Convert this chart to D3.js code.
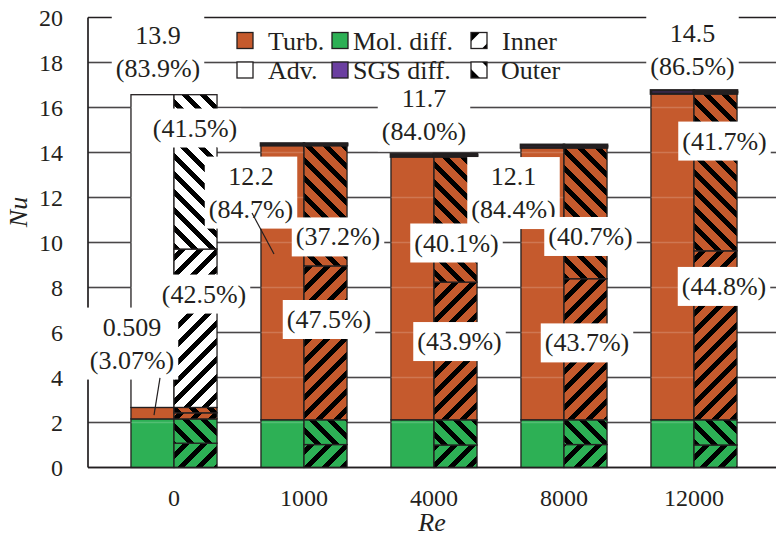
<!DOCTYPE html>
<html>
<head>
<meta charset="utf-8">
<script src="https://cdn.jsdelivr.net/npm/d3@7/dist/d3.min.js"></script>
<style>
  html, body { margin: 0; padding: 0; background: #fff; }
  svg { display: block; font-family: "Liberation Serif", serif; }
  svg text { font-family: "Liberation Serif", serif; fill: #231f20; }
</style>
</head>
<body>
<svg id="chart" width="776" height="538"></svg>
<script>
// ---------------- data ----------------
const categories = ["0", "1000", "4000", "8000", "12000"];
// left (total) bar components
const molDiff = [2.16, 2.12, 2.12, 2.12, 2.12];
const turb    = [0.509, 12.2, 11.7, 12.1, 14.5];
const sgsDiff = [0, 0.08, 0.11, 0.12, 0.14];
const adv     = [13.9, 0, 0, 0, 0];
// right (inner / outer split) bar components
const molInner  = [1.08, 1.02, 1.0, 1.02, 1.0];
const molOuter  = [1.08, 1.10, 1.12, 1.10, 1.12];
const turbInner = [0.27, 6.84, 6.12, 6.27, 7.51];
const turbOuter = [0.239, 5.36, 5.58, 5.83, 6.99];
const sgsInner  = [0, 0.04, 0.05, 0.06, 0.07];
const sgsOuter  = [0, 0.04, 0.06, 0.06, 0.07];
const advInner  = [7.04, 0, 0, 0, 0];
const advOuter  = [6.86, 0, 0, 0, 0];
const yTicks = [0, 2, 4, 6, 8, 10, 12, 14, 16, 18, 20];
const legendNames = ["Turb.", "Mol. diff.", "Inner", "Adv.", "SGS diff.", "Outer"];
// annotation texts
const annTexts = [
  ["13.9", "(83.9%)"], ["(41.5%)"], ["(42.5%)"], ["0.509", "(3.07%)"],
  ["12.2", "(84.7%)"], ["(37.2%)"], ["(47.5%)"],
  ["11.7", "(84.0%)"], ["(40.1%)"], ["(43.9%)"],
  ["12.1", "(84.4%)"], ["(40.7%)"], ["(43.7%)"],
  ["14.5", "(86.5%)"], ["(41.7%)"], ["(44.8%)"]
];
const annGroup = ["0","0","0","0","1000","1000","1000","4000","4000","4000","8000","8000","8000","12000","12000","12000"];
const annY     = [18.51, 15.11, 7.73, 5.53, 12.24, 10.27, 6.6, 15.67, 10.0, 5.62, 12.22, 10.29, 5.56, 18.56, 14.53, 8.07];

// ---------------- layout ----------------
const FONT = '"Liberation Serif", serif';
const colors = { mol: "#2db055", turb: "#c55a2d", sgs: "#6b3fa0", adv: "#ffffff" };
const ink = "#231f20";
const plotL = 88, plotR = 776, plotT = 17.5, plotB = 467.5;

const svg = d3.select("#chart");
const x = d3.scaleBand().domain(categories).range([109, 759]).paddingInner(0.338).paddingOuter(0.169);
const y = d3.scaleLinear().domain([0, 20]).range([plotB, plotT]);
const half = x.bandwidth() / 2;

// patterns
const defs = svg.append("defs");
function mkPattern(id, d) {
  const p = defs.append("pattern").attr("id", id).attr("patternUnits", "userSpaceOnUse")
    .attr("width", 18).attr("height", 18);
  p.append("path").attr("d", d).attr("stroke", "#000").attr("stroke-width", 5.2)
    .attr("shape-rendering", "crispEdges").attr("fill", "none");
}
mkPattern("inner", "M-4.5,4.5L4.5,-4.5M0,18L18,0M13.5,22.5L22.5,13.5");
mkPattern("outer", "M-4.5,13.5L4.5,22.5M0,0L18,18M13.5,-4.5L22.5,4.5");

// gridlines (behind bars)
svg.append("g").selectAll("line").data(yTicks).join("line")
  .attr("x1", plotL).attr("x2", plotR)
  .attr("y1", d => y(d)).attr("y2", d => y(d))
  .attr("stroke", ink).attr("stroke-width", 1.7);

// left bars
const leftTable = categories.map((c, i) => ({ cat: c, mol: molDiff[i], turb: turb[i], sgs: sgsDiff[i], adv: adv[i] }));
const leftKeys = ["mol", "turb", "sgs", "adv"];
const leftStack = d3.stack().keys(leftKeys)(leftTable);
const gl = svg.append("g");
leftStack.forEach(layer => {
  gl.selectAll(null).data(layer.filter(d => d[1] - d[0] > 0)).join("rect")
    .attr("x", d => x(d.data.cat))
    .attr("width", half)
    .attr("y", d => y(d[1]))
    .attr("height", d => y(d[0]) - y(d[1]))
    .attr("fill", colors[layer.key])
    .attr("stroke", ink).attr("stroke-width", layer.key === "sgs" ? 2.6 : 1.3);
});

// faint gridline sheen over the bars
svg.append("g").selectAll("line").data(yTicks.filter(t => t > 0 && t < 20)).join("line")
  .attr("x1", plotL).attr("x2", plotR)
  .attr("y1", d => y(d)).attr("y2", d => y(d))
  .attr("stroke", "#fff").attr("stroke-opacity", 0.18).attr("stroke-width", 1.5);

// right bars
const rightTable = categories.map((c, i) => ({
  cat: c, molI: molInner[i], molO: molOuter[i], turbI: turbInner[i], turbO: turbOuter[i],
  sgsI: sgsInner[i], sgsO: sgsOuter[i], advI: advInner[i], advO: advOuter[i]
}));
const rightKeys = ["molI", "molO", "turbI", "turbO", "sgsI", "sgsO", "advI", "advO"];
const rightStack = d3.stack().keys(rightKeys)(rightTable);
const gr = svg.append("g");
rightStack.forEach(layer => {
  const base = colors[layer.key.slice(0, -1)];
  const pat = layer.key.endsWith("I") ? "url(#inner)" : "url(#outer)";
  const isSgs = layer.key.startsWith("sgs");
  const segs = layer.filter(d => d[1] - d[0] > 0);
  gr.selectAll(null).data(segs).join("rect")
    .attr("x", d => x(d.data.cat) + half)
    .attr("width", half)
    .attr("y", d => y(d[1]))
    .attr("height", d => y(d[0]) - y(d[1]))
    .attr("fill", base);
  gr.selectAll(null).data(segs).join("rect")
    .attr("x", d => x(d.data.cat) + half)
    .attr("width", half)
    .attr("y", d => y(d[1]))
    .attr("height", d => y(d[0]) - y(d[1]))
    .attr("fill", isSgs ? "none" : pat)
    .attr("stroke", ink).attr("stroke-width", isSgs ? 2.6 : 1.3);
});

// axes
svg.append("line").attr("x1", plotL).attr("x2", plotL).attr("y1", plotT).attr("y2", plotB)
  .attr("stroke", ink).attr("stroke-width", 1.7);
const xAxis = svg.append("g").attr("transform", `translate(0,${plotB})`)
  .call(d3.axisBottom(x).tickSize(0).tickPadding(21));
xAxis.attr("font-family", FONT);
xAxis.select(".domain").attr("stroke", ink).attr("stroke-width", 1.7).attr("d", `M${plotL},0H${plotR}`);
xAxis.selectAll("text").attr("font-size", 24).attr("fill", ink).style("font-family", FONT);
const yAxis = svg.append("g").attr("transform", `translate(${plotL},0)`)
  .call(d3.axisLeft(y).tickValues(yTicks).tickSize(0).tickPadding(25));
yAxis.attr("font-family", FONT);
yAxis.select(".domain").remove();
yAxis.selectAll("text").attr("font-size", 24).attr("fill", ink).style("font-family", FONT);

// titles
svg.append("text").attr("transform", "translate(27,212) rotate(-90)").attr("text-anchor", "middle")
  .style("font-family", FONT).attr("font-size", 26).attr("font-style", "italic").text("Nu");
svg.append("text").attr("x", 432).attr("y", 531).attr("text-anchor", "middle")
  .style("font-family", FONT).attr("font-size", 26).attr("font-style", "italic").text("Re");

// annotations
const annDx = [-16, 21, 30, -42, -53, 34, 25, -10, 22.5, 25.5, -50.5, 26.5, 23, -1.5, 30.5, 30];
const ga = svg.append("g");
annTexts.forEach((lines, i) => {
  const cx = x(annGroup[i]) + half + annDx[i];
  const cy = y(annY[i]);
  const g = ga.append("g");
  const lh = 33;
  const box = g.append("rect").attr("fill", "#fff");
  const t = g.append("text").attr("text-anchor", "middle").attr("font-size", 26).style("font-family", FONT);
  lines.forEach((s, k) => {
    t.append("tspan").attr("x", cx)
      .attr("y", cy + (k - (lines.length - 1) / 2) * lh + 9).text(s);
  });
  const bb = t.node().getBBox();
  box.attr("x", bb.x - 4).attr("y", bb.y - 5).attr("width", bb.width + 8).attr("height", bb.height + 10);
});
// leader lines
const leaders = [
  { g: "0", dx0: -14, y0: 3.98, dx1: -20, y1: 2.33 },
  { g: "1000", dx0: -52, y0: 11.31, dx1: -30, y1: 9.49 }
];
ga.selectAll(null).data(leaders).join("line")
  .attr("x1", d => x(d.g) + half + d.dx0).attr("y1", d => y(d.y0))
  .attr("x2", d => x(d.g) + half + d.dx1).attr("y2", d => y(d.y1))
  .attr("stroke", ink).attr("stroke-width", 1.2);

// legend
const legFill = [colors.turb, colors.mol, "inner", colors.adv, colors.sgs, "outer"];
const swX = [237, 332, 471, 237, 332, 471];
const txX = [268, 353, 502, 268, 353, 501];
const rowY = [40.5, 70];
const gLeg = svg.append("g");
legendNames.forEach((name, i) => {
  const r = Math.floor(i / 3);
  const sy = rowY[r] - 8;
  if (legFill[i] === "inner" || legFill[i] === "outer") {
    gLeg.append("rect").attr("x", swX[i]).attr("y", sy).attr("width", 16).attr("height", 16)
      .attr("fill", "#fff");
    const p = legFill[i] === "inner"
      ? `M${swX[i]},${sy}h9l-9,9z M${swX[i] + 16},${sy + 16}h-5l5,-5z`
      : `M${swX[i]},${sy + 16}h9l-9,-9z M${swX[i] + 16},${sy}h-5l5,5z`;
    gLeg.append("path").attr("d", p).attr("fill", "#000");
    gLeg.append("rect").attr("x", swX[i]).attr("y", sy).attr("width", 16).attr("height", 16)
      .attr("fill", "none").attr("stroke", ink).attr("stroke-width", 1.3);
  } else {
    gLeg.append("rect").attr("x", swX[i]).attr("y", sy).attr("width", 16).attr("height", 16)
      .attr("fill", legFill[i]).attr("stroke", ink).attr("stroke-width", 1.3);
  }
  gLeg.append("text").attr("x", txX[i]).attr("y", rowY[r] + 9).attr("font-size", 26)
    .style("font-family", FONT).text(name);
});
</script>
</body>
</html>
